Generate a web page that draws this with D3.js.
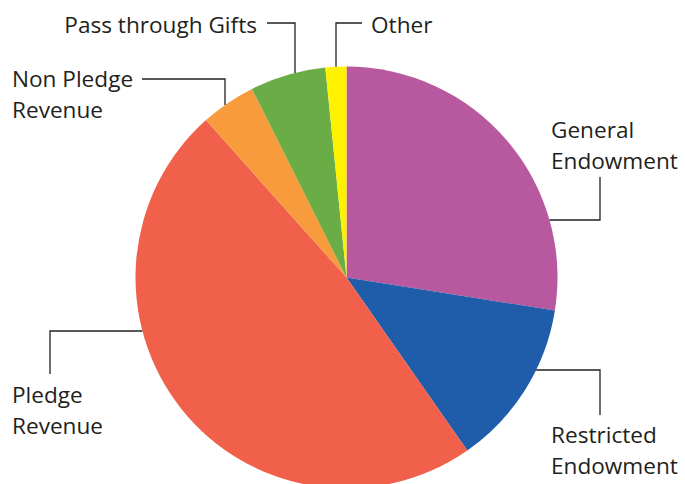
<!DOCTYPE html>
<html>
<head>
<meta charset="utf-8">
<script src="https://cdn.jsdelivr.net/npm/d3@7"></script>
<style>
  body { margin: 0; background: #fff; }
  .lbl { font-family: 'Open Sans', sans-serif; font-size: 22.6px; fill: #231f20; }
  .leader { fill: none; stroke: #231f20; stroke-width: 1.3; }
</style>
</head>
<body>
<div id="chart"></div>
<script>
// slice data (percent of total), clockwise from 12 o'clock
const categories = ['General Endowment', 'Restricted Endowment', 'Pledge Revenue',
                    'Non Pledge Revenue', 'Pass through Gifts', 'Other']
const values = [27.5, 12.8, 48.1, 4.2, 5.8, 1.6]
const colors = ['#b8589f', '#1f5ca9', '#f0604b', '#f89b3c', '#6aad47', '#fff200']

const W = 685, H = 484
const cx = 346.5, cy = 277.5, r = 211

const svg = d3.select('#chart').append('svg')
    .attr('width', W)
    .attr('height', H)

const pie = d3.pie().sort(null).value(d => d.value)
const arc = d3.arc().innerRadius(0).outerRadius(r)

const data = categories.map((c, i) => ({name: c, value: values[i], color: colors[i]}))

const g = svg.append('g').attr('transform', `translate(${cx},${cy})`)

g.selectAll('path')
  .data(pie(data))
  .join('path')
    .attr('d', arc)
    .attr('fill', d => d.data.color)

// label layout: text lines, text position, elbow of the leader line
// 'v' = last leg goes vertical into the pie, 'h' = horizontal into the pie
const labels = [
    {name: 'General Endowment', lines: ['General', 'Endowment'], x: 551, y: 138, anchor: 'start',
     path: [[600, 177], [600, 220]], end: 'h'},
    {name: 'Restricted Endowment', lines: ['Restricted', 'Endowment'], x: 551, y: 443, anchor: 'start',
     path: [[600, 415], [600, 370]], end: 'h'},
    {name: 'Pledge Revenue', lines: ['Pledge', 'Revenue'], x: 12, y: 403, anchor: 'start',
     path: [[50, 374], [50, 331]], end: 'h'},
    {name: 'Non Pledge Revenue', lines: ['Non Pledge', 'Revenue'], x: 12, y: 87, anchor: 'start',
     path: [[142, 79], [225, 79]], end: 'v'},
    {name: 'Pass through Gifts', lines: ['Pass through Gifts'], x: 257, y: 33, anchor: 'end',
     path: [[267, 23], [295, 23]], end: 'v'},
    {name: 'Other', lines: ['Other'], x: 371, y: 33, anchor: 'start',
     path: [[362, 23], [336, 23]], end: 'v'}
]

const lineH = 31

// point where the leader meets the pie rim
function rimPoint(p, end) {
    const [x, y] = p
    if (end === 'v') {
        const dx = x - cx
        return [x, cy - Math.sqrt(r*r - dx*dx)]
    }
    const dy = y - cy
    const s = x < cx ? -1 : 1
    return [cx + s*Math.sqrt(r*r - dy*dy), y]
}

const line = d3.line()

svg.selectAll('.leader')
  .data(labels)
  .join('path')
    .attr('class', 'leader')
    .attr('d', d => line([...d.path, rimPoint(d.path[d.path.length-1], d.end)]))

const txt = svg.selectAll('.lbl')
  .data(labels)
  .join('text')
    .attr('class', 'lbl')
    .attr('text-anchor', d => d.anchor)
    .attr('x', d => d.x)
    .attr('y', d => d.y)

txt.selectAll('tspan')
  .data(d => d.lines.map((t, i) => ({t, i, x: d.x})))
  .join('tspan')
    .attr('x', d => d.x)
    .attr('dy', d => d.i === 0 ? 0 : lineH)
    .text(d => d.t)
</script>
</body>
</html>
